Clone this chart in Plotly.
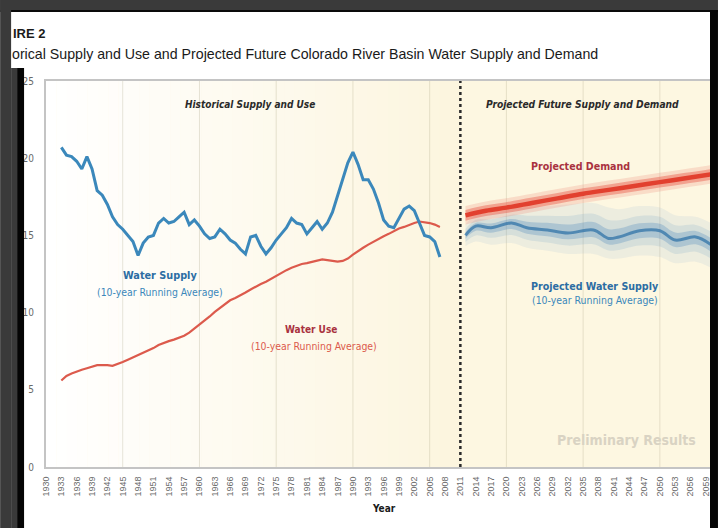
import plotly.graph_objects as go

# ---- data -------------------------------------------------------------
hist_years = list(range(1933, 2008))

water_supply = [
    20.7, 20.2, 20.1, 19.8, 19.3, 20.1, 19.3, 17.9, 17.6, 17.0,   # 1933-1942
    16.2, 15.7, 15.4, 15.0, 14.6, 13.7, 14.5, 14.9, 15.0, 15.8,   # 1943-1952
    16.1, 15.8, 15.9, 16.2, 16.5, 15.7, 16.0, 15.6, 15.1, 14.8,   # 1953-1962
    14.9, 15.4, 15.1, 14.7, 14.5, 14.1, 13.8, 14.9, 15.0, 14.3,   # 1963-1972
    13.8, 14.2, 14.7, 15.1, 15.5, 16.1, 15.8, 15.7, 15.1, 15.5,   # 1973-1982
    15.9, 15.4, 15.8, 16.5, 17.6, 18.7, 19.7, 20.4, 19.6, 18.6,   # 1983-1992
    18.6, 18.0, 17.1, 16.0, 15.6, 15.5, 16.1, 16.7, 16.9, 16.6,   # 1993-2002
    15.8, 15.0, 14.9, 14.6, 13.6,                                 # 2003-2007
]

water_use = [
    5.6, 5.9, 6.05, 6.2, 6.3, 6.4, 6.5, 6.6, 6.6, 6.6,            # 1933-1942
    6.55, 6.65, 6.8, 6.95, 7.1, 7.2, 7.35, 7.55, 7.7, 7.9,        # 1943-1952
    8.05, 8.15, 8.25, 8.35, 8.5, 8.7, 8.95, 9.2, 9.5, 9.75,       # 1953-1962
    10.05, 10.3, 10.6, 10.8, 10.95, 11.1, 11.3, 11.5, 11.7, 11.85,  # 1963-1972
    12.0, 12.2, 12.4, 12.55, 12.75, 12.9, 13.05, 13.15, 13.2, 13.3,  # 1973-1982
    13.4, 13.45, 13.4, 13.35, 13.3, 13.35, 13.5, 13.75, 14.0, 14.2,  # 1983-1992
    14.4, 14.6, 14.8, 14.95, 15.1, 15.3, 15.45, 15.55, 15.7, 15.8,   # 1993-2002
    15.9, 15.85, 15.8, 15.7, 15.55,                                  # 2003-2007
]

proj_supply_years = [2012, 2014, 2017, 2021, 2024, 2028, 2032, 2037,
                     2040, 2042, 2046, 2050, 2053, 2057, 2060]
proj_supply_mid = [15.0, 15.6, 15.5, 15.8, 15.5, 15.35, 15.15, 15.35,
                   14.8, 14.9, 15.3, 15.3, 14.7, 14.9, 14.4]
proj_supply_hi = [15.7, 16.3, 16.4, 16.7, 16.8, 16.9, 17.0, 17.1,
                  16.8, 16.7, 16.9, 16.8, 16.3, 16.2, 15.8]
proj_supply_lo = [14.3, 14.6, 14.4, 14.5, 14.2, 14.0, 13.8, 13.8,
                  13.5, 13.5, 13.7, 13.6, 13.2, 13.3, 12.9]

demand_years = [2012, 2016, 2020, 2025, 2030, 2035, 2040, 2045, 2050, 2055, 2060]
proj_demand = [16.3, 16.6, 16.8, 17.1, 17.4, 17.7, 17.95, 18.2, 18.45, 18.7, 18.95]

tick_years = list(range(1930, 2060, 3))
y_ticks = [0, 5, 10, 15, 20, 25]
grid_years = list(range(1945, 2060, 15))
divider_year = 2011
x_range = [1930, 2059.8]

# ---- styling helpers --------------------------------------------------
NARROW = "DejaVu Sans Condensed, Liberation Sans Narrow, Arial Narrow, sans-serif"
SANS = "Liberation Sans, Arial, sans-serif"
BLUE = "#3b88bb"
BLUE_DARK = "#2c6da3"
RED = "#dc5a4c"
RED_TXT = "#a9323f"

fig = go.Figure()

# projected supply: widening uncertainty envelope around the median path
def band(years, lo, hi, color):
    fig.add_trace(go.Scatter(x=years, y=hi, mode="lines", line=dict(width=0, shape="spline"),
                             hoverinfo="skip", showlegend=False))
    fig.add_trace(go.Scatter(x=years, y=lo, mode="lines", line=dict(width=0, shape="spline"),
                             fill="tonexty", fillcolor=color, hoverinfo="skip", showlegend=False))

band(proj_supply_years, proj_supply_lo, proj_supply_hi, "rgba(140,180,210,0.14)")
mid_lo = [m - (m - l) * 0.6 for m, l in zip(proj_supply_mid, proj_supply_lo)]
mid_hi = [m + (h - m) * 0.6 for m, h in zip(proj_supply_mid, proj_supply_hi)]
band(proj_supply_years, mid_lo, mid_hi, "rgba(110,160,200,0.18)")
in_lo = [m - (m - l) * 0.3 for m, l in zip(proj_supply_mid, proj_supply_lo)]
in_hi = [m + (h - m) * 0.3 for m, h in zip(proj_supply_mid, proj_supply_hi)]
band(proj_supply_years, in_lo, in_hi, "rgba(70,130,185,0.28)")
fig.add_trace(go.Scatter(x=proj_supply_years, y=proj_supply_mid, mode="lines",
                         line=dict(color="rgba(40,110,165,0.7)", width=3, shape="spline"),
                         showlegend=False, name="Projected Water Supply"))

# projected demand: bright core with soft halo
band(demand_years, [v - 0.6 for v in proj_demand], [v + 0.6 for v in proj_demand],
     "rgba(240,140,125,0.25)")
band(demand_years, [v - 0.35 for v in proj_demand], [v + 0.35 for v in proj_demand],
     "rgba(232,90,75,0.45)")
fig.add_trace(go.Scatter(x=demand_years, y=proj_demand, mode="lines",
                         line=dict(color="#e2402f", width=4.5, shape="spline"),
                         showlegend=False, name="Projected Demand"))

# historical records
fig.add_trace(go.Scatter(x=hist_years, y=water_use, mode="lines",
                         line=dict(color=RED, width=2.2), showlegend=False, name="Water Use"))
fig.add_trace(go.Scatter(x=hist_years, y=water_supply, mode="lines",
                         line=dict(color=BLUE, width=3), showlegend=False, name="Water Supply"))

# ---- background: white-to-cream fade over the historical period -------
shapes = []
n = 40
c0 = (255, 255, 255)
c1 = (252, 245, 222)
span = divider_year - x_range[0]
for i in range(n):
    t = (i + 0.5) / n
    col = tuple(round(a + (b - a) * t) for a, b in zip(c0, c1))
    shapes.append(dict(type="rect", xref="x", yref="paper",
                       x0=x_range[0] + span * i / n, x1=x_range[0] + span * (i + 1) / n + 0.05,
                       y0=0, y1=1, layer="below", line=dict(width=0),
                       fillcolor="rgb(%d,%d,%d)" % col))
for g in grid_years:
    shapes.append(dict(type="line", xref="x", yref="paper", x0=g, x1=g, y0=0, y1=1,
                       layer="below", line=dict(color="rgba(170,160,130,0.28)", width=1)))
shapes.append(dict(type="line", xref="x", yref="paper", x0=divider_year, x1=divider_year,
                   y0=0, y1=1, layer="above", line=dict(color="#2a2a2a", width=2.5, dash="dot")))

# dark surround of the page
L, R, T, B = 46, 712, 81, 467
def px(xp):
    return (xp - L) / (R - L)
def py(yp):
    return (B - yp) / (B - T)
def rect(x0, y0, x1, y1, color):
    shapes.append(dict(type="rect", xref="paper", yref="paper", x0=px(x0), x1=px(x1),
                       y0=py(y1), y1=py(y0), layer="above", line=dict(width=0), fillcolor=color))
rect(0, 0, 720, 10, "#3a3a3a")
rect(0, 10, 720, 12, "#0a0a0a")
rect(0, 0, 11, 528, "#3a3a3a")
rect(11, 68, 17, 528, "#3a3a3a")
rect(17, 68, 24, 528, "#050505")
rect(712, 10, 720, 528, "#050505")

# ---- annotations ------------------------------------------------------
ann = []
def text(xp, yp, s, size, color, family=NARROW, xanchor="center"):
    ann.append(dict(xref="paper", yref="paper", x=px(xp), y=py(yp), text=s, showarrow=False,
                    xanchor=xanchor, yanchor="middle", font=dict(size=size, color=color, family=family)))

text(11, 33, "<b>IRE 2</b>", 13, "#1a1a1a", SANS, "left")
text(10, 54, "orical Supply and Use and Projected Future Colorado River Basin Water Supply and Demand",
     14.2, "#1a1a1a", SANS, "left")
text(251, 104, "<b><i>Historical Supply and Use</i></b>", 10, "#2a2a2a")
text(584, 104, "<b><i>Projected Future Supply and Demand</i></b>", 10.2, "#2a2a2a")
text(582, 166, "<b>Projected Demand</b>", 10.6, RED_TXT)
text(160, 275, "<b>Water Supply</b>", 10.8, BLUE_DARK)
text(160, 292, "(10-year Running Average)", 10.4, BLUE)
text(312, 329, "<b>Water Use</b>", 10, RED_TXT)
text(315, 346, "(10-year Running Average)", 10.4, RED)
text(597, 286, "<b>Projected Water Supply</b>", 10.6, BLUE_DARK)
text(597, 300, "(10-year Running Average)", 10.4, BLUE)
text(628, 440, "<b>Preliminary Results</b>", 14, "#d9d3c3")
text(385, 508, "<b>Year</b>", 10, "#1a1a1a")

fig.update_layout(
    width=720, height=528,
    margin=dict(l=L, r=720 - R, t=T, b=528 - B),
    paper_bgcolor="white",
    plot_bgcolor="#fdf7e1",
    shapes=shapes,
    annotations=ann,
    showlegend=False,
)
fig.update_xaxes(range=x_range, tickmode="array", tickvals=tick_years,
                 ticktext=[str(y) for y in tick_years], tickangle=-90,
                 tickfont=dict(size=9, color="#6a6a6a", family=SANS),
                 showgrid=False, zeroline=False, showline=True, mirror=True,
                 linecolor="#c4c4c4", linewidth=2, ticks="", ticklabelstandoff=4)
fig.update_yaxes(range=[0, 25], tickmode="array", tickvals=y_ticks,
                 tickfont=dict(size=10, color="#6a6a6a", family=NARROW),
                 showgrid=False, zeroline=False, showline=True, mirror=True,
                 linecolor="#c4c4c4", linewidth=2, ticks="", ticklabelstandoff=8)

fig.write_html("out.html")
